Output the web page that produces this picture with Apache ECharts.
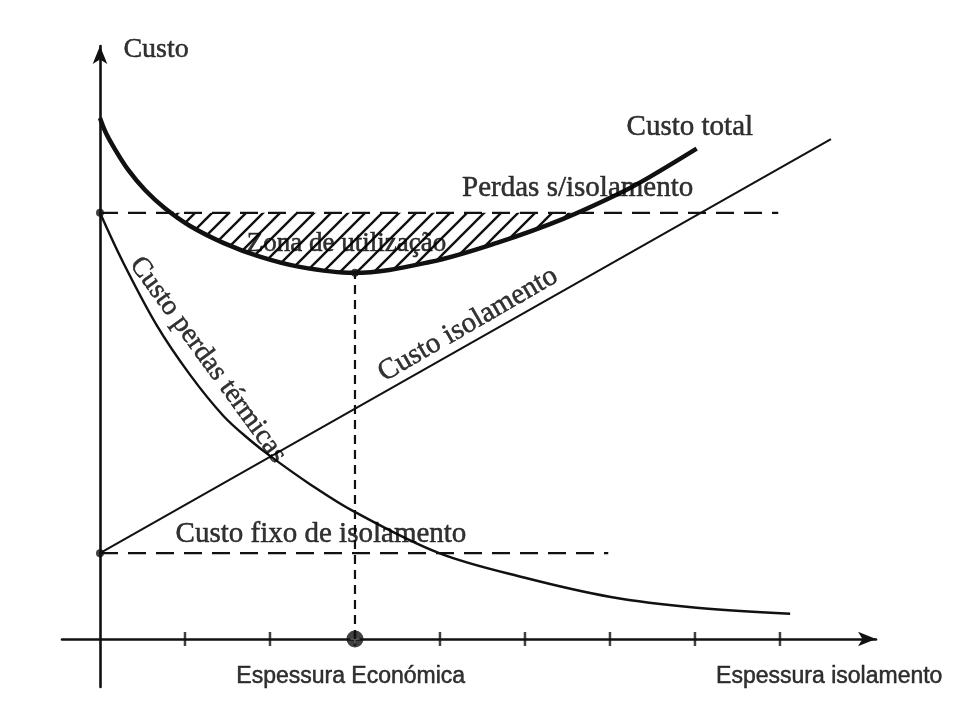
<!DOCTYPE html>
<html>
<head>
<meta charset="utf-8">
<title>Espessura económica de isolamento</title>
<script src="https://cdn.jsdelivr.net/npm/echarts@6/dist/echarts.min.js"></script>
<style>
html, body { margin: 0; padding: 0; background: #fff; }
#chart { width: 964px; height: 719px; }
</style>
</head>
<body>
<div id="chart"></div>
<script>
// values: x in thickness steps (ticks), y in cost units
var totalX = [0, 0.07, 0.18, 0.33, 0.53, 0.76, 1.06, 1.45, 1.88, 2.35, 2.98, 3.88, 4.67, 5.45, 6.12, 6.47, 7.02];
var totalY = [86.8, 84.3, 81.5, 78.2, 74.8, 71.8, 68.8, 66, 63.7, 62, 61, 62.8, 66, 70, 74.3, 77, 81.7];

var perdasX = [0, 0.27, 0.67, 1.06, 1.45, 1.76, 2.02, 2.47, 2.98, 3.99, 5.0, 6.01, 7.02, 8.12];
var perdasY = [71, 62.8, 52.2, 44, 37.2, 33.2, 30.3, 25.8, 21.3, 14.3, 10.2, 7, 5.2, 4.2];

var isolX = [0, 8.6];
var isolY = [14.3, 83.3];

// zona de utilização: part of the total curve below the "perdas s/isolamento" level
var zonaX = [0.85, 1.06, 1.45, 1.88, 2.35, 2.98, 3.88, 4.67, 5.45, 5.61];
var zonaY = [71, 68.8, 66, 63.7, 62, 61, 62.8, 66, 70, 71];

var perdasSemIso = 71;
var perdasSemIsoFim = 7.98;
var custoFixo = 14.3;
var custoFixoFim = 5.98;
var espEconomica = 3;
var minTotal = 61;

var tickX = [1, 2, 3, 4, 5, 6, 7, 8];

var ink = '#111';
var serif = '"Liberation Serif", "DejaVu Serif", serif';
var sans = '"Liberation Sans", "DejaVu Sans", sans-serif';

function pairs(xs, ys) {
	return xs.map(function (x, i) { return [x, ys[i]]; });
}

function hatchPattern() {
	var s = 17;
	var c = document.createElement('canvas');
	c.width = s;
	c.height = s;
	var ctx = c.getContext('2d');
	ctx.strokeStyle = ink;
	ctx.lineWidth = 2.4;
	ctx.beginPath();
	ctx.moveTo(-2, s + 2); ctx.lineTo(s + 2, -2);
	ctx.moveTo(-2, 2); ctx.lineTo(2, -2);
	ctx.moveTo(s - 2, s + 2); ctx.lineTo(s + 2, s - 2);
	ctx.stroke();
	return c;
}

function note(x, y, text, opts) {
	opts = opts || {};
	return {
		value: [x, y],
		label: {
			formatter: text,
			rotate: opts.rotate || 0,
			fontSize: opts.size || 29,
			fontFamily: opts.font || serif
		}
	};
}

function economicChart() {

	var chart = echarts.init(document.getElementById('chart'));

	var notes = [
		note(0.66, 98.2, 'Custo', { size: 28 }),
		note(6.94, 85.2, 'Custo total'),
		note(5.62, 75, 'Perdas s/isolamento'),
		note(2.9, 65.8, 'Zona de utilização', { size: 27 }),
		note(4.33, 52.4, 'Custo isolamento', { rotate: 30 }),
		note(1.27, 46.5, 'Custo perdas térmicas', { rotate: -54, size: 28 }),
		note(2.6, 17.4, 'Custo fixo de isolamento'),
		note(2.95, -6.2, 'Espessura Económica', { size: 23, font: sans }),
		note(8.58, -6.3, 'Espessura isolamento', { size: 23, font: sans })
	];

	var option = {
		animation: false,
		backgroundColor: '#fff',
		grid: { left: 62, right: 88, top: 46, bottom: 32 },
		xAxis: {
			type: 'value',
			min: -0.447,
			max: 9.13,
			axisLine: {
				onZero: true,
				symbol: ['none', 'arrow'],
				symbolSize: [11, 18],
				lineStyle: { color: ink, width: 2.6 }
			},
			axisTick: { show: false },
			axisLabel: { show: false },
			splitLine: { show: false }
		},
		yAxis: {
			type: 'value',
			min: -8,
			max: 98.8,
			axisLine: {
				onZero: true,
				symbol: ['none', 'arrow'],
				symbolSize: [11, 18],
				lineStyle: { color: ink, width: 2.6 }
			},
			axisTick: { show: false },
			axisLabel: { show: false },
			splitLine: { show: false }
		},
		series: [
			{
				name: 'Zona de utilização',
				type: 'line',
				data: pairs(zonaX, zonaY),
				smooth: 0.35,
				symbol: 'none',
				lineStyle: { width: 0 },
				areaStyle: {
					origin: perdasSemIso,
					opacity: 1,
					color: { image: hatchPattern(), repeat: 'repeat' }
				}
			},
			{
				name: 'Perdas s/isolamento',
				type: 'line',
				data: [[0, perdasSemIso], [perdasSemIsoFim, perdasSemIso]],
				symbol: 'none',
				lineStyle: { color: ink, width: 2.2, type: [18, 10] }
			},
			{
				name: 'Custo fixo de isolamento',
				type: 'line',
				data: [[0, custoFixo], [custoFixoFim, custoFixo]],
				symbol: 'none',
				lineStyle: { color: ink, width: 2.2, type: [18, 10] }
			},
			{
				name: 'Espessura Económica',
				type: 'line',
				data: [[espEconomica, 0], [espEconomica, minTotal]],
				symbol: 'none',
				lineStyle: { color: ink, width: 2.2, type: [9, 6] }
			},
			{
				name: 'Custo isolamento',
				type: 'line',
				data: pairs(isolX, isolY),
				symbol: 'none',
				lineStyle: { color: ink, width: 2 }
			},
			{
				name: 'Custo perdas térmicas',
				type: 'line',
				data: pairs(perdasX, perdasY),
				smooth: 0.35,
				symbol: 'none',
				lineStyle: { color: ink, width: 2.4 }
			},
			{
				name: 'Custo total',
				type: 'line',
				data: pairs(totalX, totalY),
				smooth: 0.35,
				symbol: 'none',
				lineStyle: { color: ink, width: 4.5 }
			},
			{
				name: 'ticks',
				type: 'scatter',
				symbol: 'rect',
				symbolSize: [2.5, 14],
				itemStyle: { color: ink },
				data: tickX.map(function (x) { return [x, 0]; })
			},
			{
				name: 'dots',
				type: 'scatter',
				symbolSize: 8,
				itemStyle: { color: ink },
				data: [[0, perdasSemIso], [0, custoFixo], [espEconomica, minTotal]]
			},
			{
				name: 'optimo',
				type: 'scatter',
				symbolSize: 17,
				itemStyle: { color: ink },
				data: [[espEconomica, 0]]
			},
			{
				name: 'optimo cruz',
				type: 'scatter',
				symbol: 'path://M-1,-6h2v12h-2z M-6,-1h12v2h-12z',
				symbolSize: 9,
				itemStyle: { color: '#777' },
				data: [[espEconomica, 0]]
			},
			{
				name: 'textos',
				type: 'scatter',
				symbolSize: 0,
				clip: false,
				itemStyle: { color: 'transparent' },
				label: {
					show: true,
					position: 'inside',
					align: 'center',
					verticalAlign: 'middle',
					color: '#000',
					textBorderColor: '#000',
					textBorderWidth: 0.5
				},
				z: 10,
				data: notes
			}
		]
	};

	chart.setOption(option);
	window.addEventListener('resize', function () {
		chart.resize();
	});
}

economicChart();
</script>
</body>
</html>
